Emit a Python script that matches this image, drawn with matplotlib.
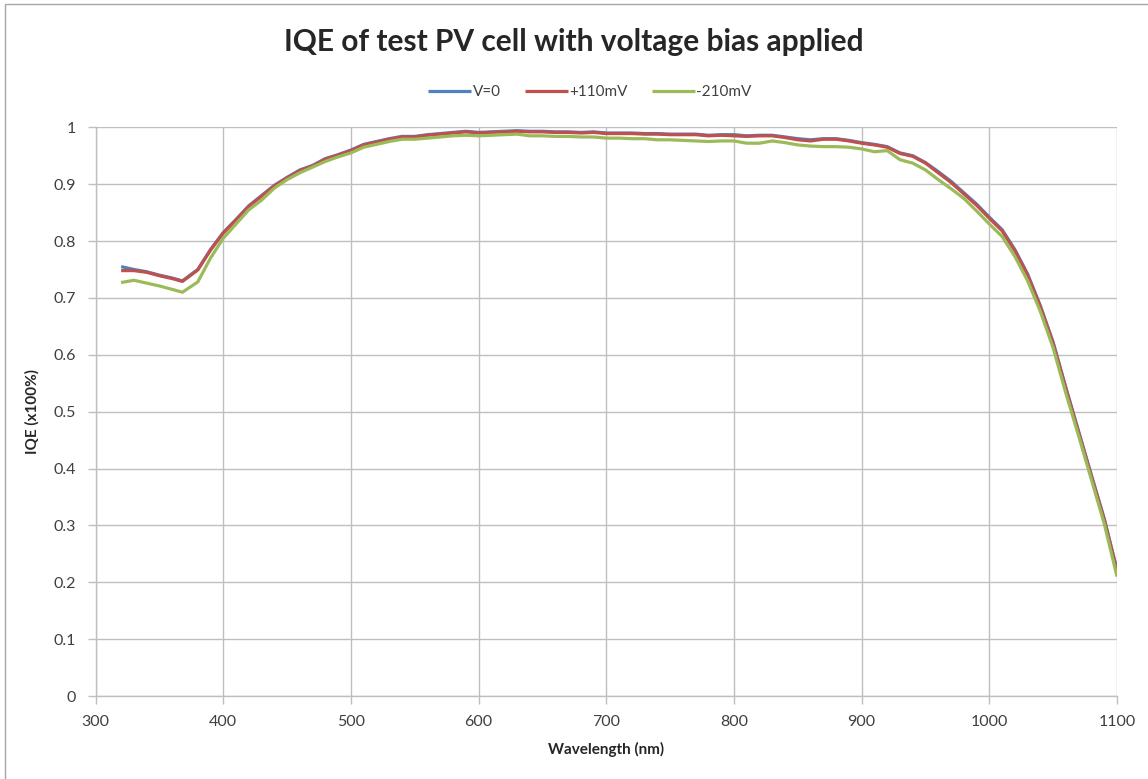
import matplotlib
matplotlib.use("Agg")
import matplotlib.pyplot as plt
from matplotlib.patches import Rectangle

wavelength = [320, 330, 340, 350, 360, 368, 380, 390, 400, 410, 420, 430, 440, 450, 460, 470, 480, 490,
              500, 510, 520, 530, 540, 550, 560, 570, 580, 590, 600, 610, 620, 630, 640, 650, 660, 670,
              680, 690, 700, 710, 720, 730, 740, 750, 760, 770, 780, 790, 800, 810, 820, 830, 840, 850,
              860, 870, 880, 890, 900, 910, 920, 930, 940, 950, 960, 970, 980, 990, 1000, 1010, 1020,
              1030, 1040, 1050, 1060, 1070, 1080, 1090, 1100]

iqe_v0 = [0.755, 0.750, 0.746, 0.740, 0.735, 0.730, 0.750, 0.785, 0.815, 0.838, 0.862, 0.880, 0.898,
          0.912, 0.925, 0.933, 0.945, 0.952, 0.960, 0.970, 0.975, 0.980, 0.984, 0.984, 0.987, 0.989,
          0.991, 0.993, 0.991, 0.992, 0.993, 0.994, 0.993, 0.993, 0.992, 0.992, 0.991, 0.992, 0.990,
          0.990, 0.990, 0.989, 0.989, 0.988, 0.988, 0.988, 0.986, 0.987, 0.987, 0.985, 0.986, 0.986,
          0.983, 0.980, 0.978, 0.980, 0.980, 0.977, 0.973, 0.970, 0.966, 0.955, 0.950, 0.938, 0.922,
          0.905, 0.885, 0.865, 0.842, 0.820, 0.785, 0.742, 0.686, 0.622, 0.542, 0.465, 0.388, 0.312,
          0.222]

iqe_p110 = [0.748, 0.748, 0.745, 0.739, 0.734, 0.729, 0.749, 0.784, 0.814, 0.837, 0.861, 0.879, 0.897,
            0.911, 0.924, 0.932, 0.944, 0.951, 0.959, 0.969, 0.974, 0.979, 0.983, 0.983, 0.986, 0.988,
            0.990, 0.992, 0.990, 0.991, 0.992, 0.993, 0.992, 0.992, 0.991, 0.991, 0.990, 0.991, 0.989,
            0.989, 0.989, 0.988, 0.988, 0.987, 0.987, 0.987, 0.985, 0.986, 0.985, 0.984, 0.985, 0.985,
            0.982, 0.978, 0.976, 0.979, 0.979, 0.976, 0.972, 0.969, 0.965, 0.954, 0.949, 0.937, 0.920,
            0.903, 0.883, 0.863, 0.840, 0.818, 0.783, 0.740, 0.684, 0.620, 0.540, 0.463, 0.386, 0.310,
            0.220]

iqe_m210 = [0.727, 0.731, 0.726, 0.721, 0.715, 0.710, 0.728, 0.770, 0.805, 0.830, 0.855, 0.872, 0.893,
            0.908, 0.920, 0.930, 0.940, 0.948, 0.955, 0.965, 0.970, 0.975, 0.979, 0.979, 0.981, 0.983,
            0.985, 0.986, 0.985, 0.986, 0.987, 0.988, 0.985, 0.985, 0.984, 0.984, 0.983, 0.983, 0.981,
            0.981, 0.980, 0.980, 0.978, 0.978, 0.977, 0.976, 0.975, 0.976, 0.976, 0.972, 0.972, 0.976,
            0.973, 0.969, 0.967, 0.966, 0.966, 0.965, 0.962, 0.957, 0.959, 0.943, 0.937, 0.925, 0.908,
            0.892, 0.875, 0.853, 0.830, 0.808, 0.773, 0.730, 0.676, 0.612, 0.532, 0.457, 0.380, 0.303,
            0.210]

series_labels = ["V=0", "+110mV", "-210mV"]
series_colors = ["#4F81BD", "#C0504D", "#9BBB59"]

x_ticks = [300, 400, 500, 600, 700, 800, 900, 1000, 1100]
y_ticks = [0, 0.1, 0.2, 0.3, 0.4, 0.5, 0.6, 0.7, 0.8, 0.9, 1.0]
y_tick_labels = ["0", "0.1", "0.2", "0.3", "0.4", "0.5", "0.6", "0.7", "0.8", "0.9", "1"]

plt.rcParams['font.family'] = ['Lato', 'DejaVu Sans']

W, H = 1148, 779
fig = plt.figure(figsize=(W / 100, H / 100), dpi=100)
fig.patches.append(Rectangle((5 / W, -0.01), 1.02, 1 - 4 / H + 0.01, transform=fig.transFigure,
                             fill=False, edgecolor="#a6a6a6", linewidth=1.0))

ax = fig.add_axes([95.6 / W, 1 - 696 / H, (1117 - 95.6) / W, (696 - 127.3) / H])

grid_c = "#bfbfbf"
for xs, ys, lab, col in zip([wavelength] * 3, [iqe_v0, iqe_p110, iqe_m210], series_labels, series_colors):
    ax.plot(xs, ys, color=col, linewidth=2.3, label=lab, solid_capstyle="butt",
            solid_joinstyle="round", zorder=3)

ax.set_xlim(300, 1100)
ax.set_ylim(0, 1)
ax.set_xticks(x_ticks)
ax.set_yticks(y_ticks)
ax.set_yticklabels(y_tick_labels)
ax.grid(True, color=grid_c, linewidth=1.0)
ax.set_axisbelow(True)
for s in ["top", "right"]:
    ax.spines[s].set_visible(False)
for s in ["left", "bottom"]:
    ax.spines[s].set_color(grid_c)
    ax.spines[s].set_linewidth(1.0)
ax.tick_params(axis="both", colors=grid_c, length=6, width=1.0, labelcolor="#404040", labelsize=11.5)
ax.tick_params(axis="x", pad=8)
ax.tick_params(axis="y", pad=8)

ax.set_xlabel("Wavelength (nm)", fontsize=11, fontweight="bold", color="#262626", labelpad=9)
ax.set_ylabel("IQE (x100%)", fontsize=11, fontweight="bold", color="#262626", labelpad=10)

fig.text(574 / W, 1 - 42 / H, "IQE of test PV cell with voltage bias applied", ha="center", va="center",
         fontsize=21.5, fontweight="bold", color="#262626")

leg = fig.legend(loc="center", bbox_to_anchor=(590 / W, 1 - 92 / H), ncol=3, frameon=False,
                 fontsize=11, handlelength=2.8, columnspacing=1.6, handletextpad=0.1)
for t in leg.get_texts():
    t.set_color("#404040")

fig.savefig("out.png", dpi=100)
